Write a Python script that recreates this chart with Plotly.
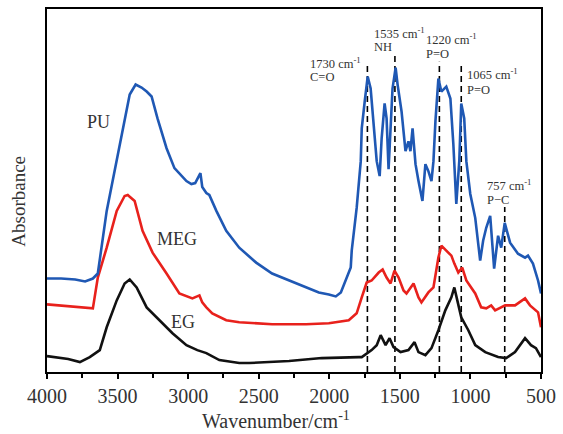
import plotly.graph_objects as go

# PU (blue)
pu_wn = [4000, 3900, 3800, 3730, 3675, 3640, 3577, 3485, 3414, 3372, 3330, 3294, 3259, 3217, 3153, 3097,
         3012, 2977, 2950, 2913, 2900, 2871, 2850, 2800, 2730, 2638, 2518, 2405, 2285, 2165, 2074,
         2003, 1954, 1918, 1876, 1848, 1841, 1806, 1777, 1770, 1749, 1735, 1728, 1707, 1686, 1664,
         1643, 1629, 1608, 1594, 1580, 1566, 1552, 1530, 1516, 1488, 1460, 1439, 1425, 1410, 1389,
         1368, 1340, 1319, 1298, 1276, 1262, 1248, 1227, 1206, 1171, 1142, 1121, 1100, 1079, 1065,
         1044, 1029, 1001, 966, 931, 910, 888, 860, 853, 832, 804, 782, 757, 719, 663, 613, 592,
         557, 521, 500]
pu_abs = [94, 94, 93, 91, 94, 99, 162, 229, 279, 289, 286, 282, 277, 255, 225, 205,
          192, 189, 190, 200, 186, 180, 178, 162, 142, 125, 110, 99, 92, 85, 80,
          78, 76, 80, 95, 105, 122, 165, 212, 245, 272, 292, 297, 285, 245, 212,
          197, 235, 270, 255, 204, 239, 285, 306, 289, 262, 222, 232, 222, 245, 209,
          192, 172, 209, 202, 192, 212, 252, 295, 282, 287, 275, 229, 169, 212, 270,
          255, 212, 179, 155, 112, 132, 145, 157, 142, 104, 137, 125, 150, 130, 119, 115, 117,
          109, 92, 79]

# MEG (red)
meg_wn = [4000, 3850, 3730, 3675, 3640, 3577, 3506, 3450, 3428, 3379, 3323, 3252, 3153, 3062,
          2970, 2920, 2900, 2871, 2829, 2730, 2638, 2518, 2405, 2165, 2003, 1862, 1806, 1770,
          1735, 1700, 1650, 1622, 1594, 1566, 1538, 1509, 1474, 1453, 1403, 1368, 1347, 1298,
          1262, 1227, 1206, 1171, 1135, 1114, 1086, 1058, 1029, 966, 924, 888, 853, 825, 754,
          684, 613, 578, 521, 500]
meg_abs = [68, 66, 64, 64, 95, 125, 162, 177, 178, 172, 142, 120, 99, 79,
           74, 77, 70, 65, 59, 52, 50, 49, 48, 48, 49, 52, 59, 75,
           90, 92, 100, 103, 95, 89, 102, 95, 82, 79, 89, 75, 70, 80,
           85, 115, 127, 122, 117, 109, 100, 105, 92, 79, 65, 64, 67, 62, 67,
           67, 74, 67, 60, 45]

# EG (black)
eg_wn = [4000, 3850, 3767, 3697, 3626, 3577, 3506, 3450, 3414, 3365, 3294, 3203, 3111, 3012,
         2935, 2871, 2779, 2638, 2568, 2285, 2053, 1791, 1770, 1700, 1664, 1636, 1601, 1573,
         1545, 1495, 1439, 1396, 1368, 1319, 1276, 1227, 1178, 1135, 1114, 1093, 1065, 1015,
         966, 895, 804, 747, 684, 613, 571, 536, 500]
eg_abs = [16, 13, 10, 15, 22, 45, 72, 89, 93, 85, 65, 52, 39, 27,
          22, 19, 12, 9, 9, 11, 14, 15, 15, 22, 27, 37, 27, 34,
          25, 20, 22, 30, 20, 17, 24, 42, 62, 75, 85, 72, 55, 42,
          27, 20, 15, 14, 20, 34, 27, 24, 15]

# Peak markers
peak_wn = [1730, 1535, 1220, 1065, 757]
peak_top = [310, 319, 312, 309, 166]
peak_wavenum_text = ["1730 cm<sup>-1</sup>", "1535 cm<sup>-1</sup>", "1220 cm<sup>-1</sup>",
                     "1065 cm<sup>-1</sup>", "757 cm<sup>-1</sup>"]
peak_group_text = ["C=O", "NH", "P=O", "P=O", "P\u2212C"]
label_x = [2144, 1693, 1319, 1029, 888]
label_y1 = [311, 341, 335, 300, 188]
label_y2 = [297, 327, 320, 284, 173]

series_names = ["PU", "MEG", "EG"]
series_lx = [3633, 3076, 3040]
series_ly = [251, 134, 50]

tick_vals = [4000, 3500, 3000, 2500, 2000, 1500, 1000, 500]

FONT = "Liberation Serif, Times New Roman, serif"
TXT = "#333333"

fig = go.Figure()
for wn, top in zip(peak_wn, peak_top):
    fig.add_trace(go.Scatter(x=[wn, wn], y=[0, top], mode="lines",
                             line=dict(color="black", width=1.6, dash="6px,4px"),
                             showlegend=False, hoverinfo="skip"))

for wn, ab, col in [(eg_wn, eg_abs, "#111111"), (meg_wn, meg_abs, "#e8211c"), (pu_wn, pu_abs, "#1f58b4")]:
    fig.add_trace(go.Scatter(x=wn, y=ab, mode="lines", line=dict(color=col, width=2.6),
                             showlegend=False))

for t1, t2, x, y1, y2 in zip(peak_wavenum_text, peak_group_text, label_x, label_y1, label_y2):
    fig.add_annotation(x=x, y=y1, text=t1, showarrow=False, xanchor="left", yanchor="middle",
                       align="left", borderpad=0, font=dict(family=FONT, size=12.5, color=TXT))
    fig.add_annotation(x=x, y=y2, text=t2, showarrow=False, xanchor="left", yanchor="middle",
                       align="left", borderpad=0, font=dict(family=FONT, size=12.5, color=TXT))

for t, x, y in zip(series_names, series_lx, series_ly):
    fig.add_annotation(x=x, y=y, text=t, showarrow=False, xanchor="center", yanchor="middle",
                       font=dict(family=FONT, size=18, color=TXT))

# axis titles
fig.add_annotation(x=0.463, y=-0.095, xref="paper", yref="paper", yanchor="top", xanchor="center",
                   text="Wavenumber/cm<sup>-1</sup>", showarrow=False,
                   font=dict(family=FONT, size=20, color=TXT))
fig.add_annotation(x=-0.058, y=0.47, xref="paper", yref="paper", xanchor="center", yanchor="middle",
                   text="Absorbance", textangle=-90, showarrow=False,
                   font=dict(family=FONT, size=19, color=TXT))

fig.update_layout(
    width=563, height=434,
    margin=dict(l=47, r=20, t=7, b=62),
    plot_bgcolor="white", paper_bgcolor="white",
    font=dict(family=FONT, color=TXT),
    xaxis=dict(range=[4000, 500], tickvals=tick_vals,
               ticks="outside", ticklen=5, tickwidth=2, tickcolor="black",
               minor=dict(dtick=250, tick0=500, ticks="outside", ticklen=4, tickwidth=2, tickcolor="black"),
               showline=True, linewidth=2, linecolor="black", mirror=True, showgrid=False,
               zeroline=False, tickfont=dict(size=20, family=FONT, color=TXT)),
    yaxis=dict(range=[0, 365], showticklabels=False, ticks="", showline=True, linewidth=2,
               linecolor="black", mirror=True, showgrid=False, zeroline=False),
)

fig.write_html("out.html", config={"displayModeBar": False},
               post_script="document.body.style.margin='0';document.body.style.overflow='hidden';")
